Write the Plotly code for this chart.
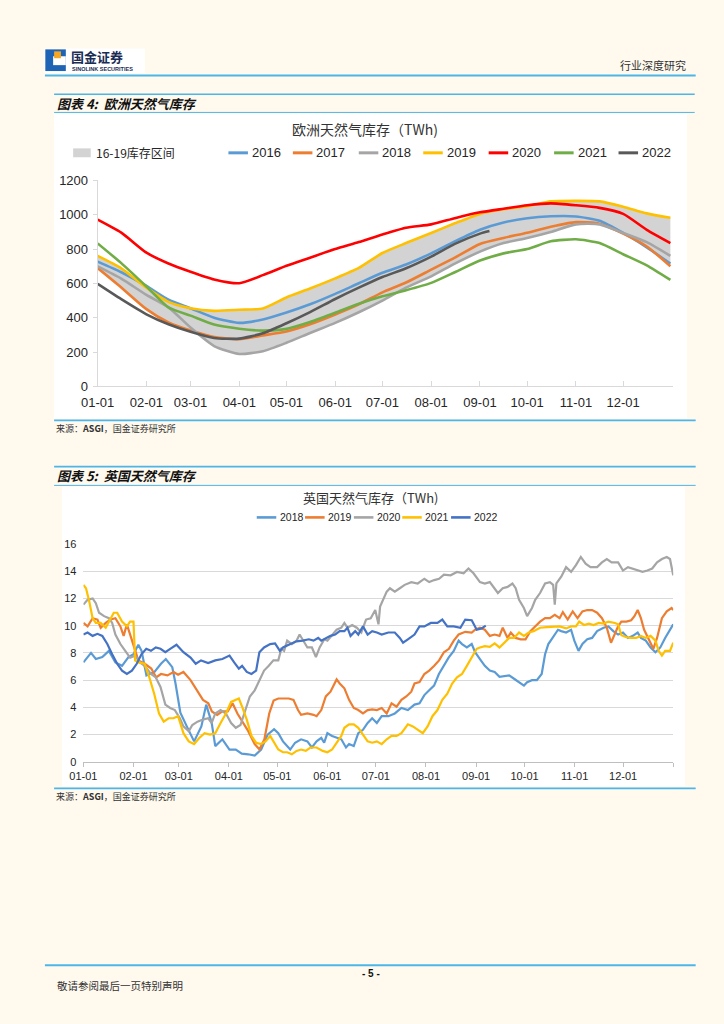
import plotly.graph_objects as go
import numpy as np

W, H = 724, 1024


def px(x):
    return x / W


def py(y):
    return 1 - y / H


# ---------------- Chart 1: Europe gas storage (TWh) ----------------
month_ticks = [0, 31, 59, 90, 120, 151, 181, 212, 243, 273, 304, 334]
month_labels = ["01-01", "02-01", "03-01", "04-01", "05-01", "06-01",
                "07-01", "08-01", "09-01", "10-01", "11-01", "12-01"]

eu_days = [0, 15, 31, 45, 59, 74, 90, 105, 120, 135, 151, 166, 181,
           196, 212, 227, 243, 258, 273, 288, 304, 319, 334, 349, 364]
eu_2016 = [727, 665, 585, 505, 455, 400, 370, 390, 430, 478, 539, 601, 662,
           710, 775, 845, 913, 955, 980, 991, 990, 965, 894, 810, 715]
eu_2017 = [689, 576, 450, 372, 325, 288, 275, 297, 320, 362, 419, 478, 548,
           605, 680, 750, 830, 865, 895, 930, 957, 948, 890, 815, 700]
eu_2018 = [699, 628, 533, 460, 343, 235, 189, 205, 254, 311, 370, 432, 500,
           575, 641, 715, 785, 835, 865, 900, 944, 944, 894, 840, 760]
eu_2019 = [760, 688, 575, 492, 455, 440, 446, 454, 518, 570, 629, 690, 777,
           835, 894, 950, 1005, 1032, 1050, 1078, 1081, 1078, 1047, 1008, 982]
eu_2020 = [972, 896, 779, 716, 668, 623, 601, 648, 703, 750, 800, 841, 885,
           924, 944, 980, 1014, 1035, 1055, 1066, 1055, 1040, 1005, 912, 835]
eu_2021 = [833, 718, 582, 460, 412, 360, 336, 325, 335, 375, 429, 481, 525,
           560, 603, 665, 733, 775, 800, 845, 857, 835, 770, 705, 620]
eu_2022_days = [0, 15, 31, 45, 59, 74, 90, 105, 120, 135, 151, 166, 181,
                196, 212, 227, 243, 249]
eu_2022 = [597, 508, 420, 362, 318, 282, 278, 309, 368, 433, 509, 575, 637,
           688, 756, 830, 890, 905]

eu_names = ["2016", "2017", "2018", "2019", "2020", "2021", "2022"]
eu_colors = ["#5B9BD5", "#ED7D31", "#A5A5A5", "#FFC000", "#FF0000", "#70AD47", "#595959"]

# ---------------- Chart 2: UK gas storage (TWh) ----------------
uk_2018 = [(0, 7.3), (4.7, 8.0), (7.7, 7.55), (11.7, 7.7), (15.8, 8.15), (19.8, 7.3), (23.9, 7.05),
           (27.9, 7.7), (31, 7.9), (34, 8.6), (36, 8.15), (39, 6.35), (44, 6.6), (48, 7.2), (51, 7.55),
           (55, 6.95), (57, 5.75), (60, 3.6), (64, 2.6), (68.5, 1.5), (73, 2.6), (76, 4.2), (79.4, 2.85),
           (81.6, 1.15), (86, 1.65), (90.4, 0.9), (94.3, 0.9), (98, 0.6), (102, 0.55), (106, 0.45),
           (110, 0.9), (114, 2.0), (118, 2.4), (120.6, 2.1), (123.5, 1.5), (128, 0.9), (131, 1.4),
           (134.7, 1.65), (138.6, 1.5), (141.4, 1.05), (144.3, 1.5), (147.2, 1.75), (149, 1.4), (151, 2.1),
           (153.9, 1.9), (156.7, 1.75), (159.6, 1.65), (162.5, 1.05), (164.4, 1.3), (167.3, 1.15),
           (170.1, 2.1), (173, 2.35), (175.9, 2.85), (178.7, 3.2), (181.6, 2.85), (184.6, 3.35),
           (188.7, 3.35), (192.7, 3.55), (196.8, 3.95), (200.8, 3.8), (204.9, 4.2), (208, 4.3), (211, 4.9),
           (214, 5.25), (217, 5.6), (220, 6.45), (223, 7.05), (226, 7.65), (229.2, 8.15), (232.2, 8.9),
           (234.3, 8.65), (237.3, 8.4), (240.3, 8.65), (242.4, 8.05), (245.4, 7.55), (248.4, 7.05),
           (251.5, 6.7), (254.5, 6.6), (257.5, 6.25), (260.5, 6.3), (263.5, 6.35), (266.5, 6.1),
           (269.6, 5.85), (272.6, 5.6), (274.6, 5.85), (277.6, 6.0), (280.6, 6.0), (283.6, 6.45),
           (285.7, 7.9), (287.7, 8.65), (289.7, 9.0), (291.7, 9.35), (293.7, 9.7), (295.7, 9.6),
           (298.7, 9.5), (301.8, 9.7), (303.8, 8.9), (306.4, 8.15), (308.8, 8.65), (311.8, 9.0),
           (314.8, 9.1), (317.9, 9.6), (321.9, 9.85), (324.9, 9.95), (327.9, 9.6), (330.9, 9.35),
           (333.9, 9.5), (337, 9.1), (340, 9.25), (343, 9.5), (345, 9.1), (348, 8.9), (351, 8.4),
           (354, 8.05), (357, 8.4), (360, 9.1), (363, 9.7), (365, 10.1)]

uk_2019 = [(0, 10.2), (2.6, 9.95), (5.7, 10.55), (8.7, 10.45), (10.7, 9.85), (13.8, 10.2), (16.8, 10.45),
           (19.8, 10.55), (22.9, 9.95), (24.9, 9.25), (26.9, 10.1), (28.9, 9.35), (31, 8.4), (34, 7.45),
           (38, 7.2), (42, 6.85), (45, 6.2), (48, 6.45), (52, 6.35), (55.8, 6.6), (58.6, 6.4), (61.9, 6.6),
           (66.3, 6.0), (70.7, 5.15), (74, 4.55), (77.3, 4.3), (79.5, 3.7), (82.8, 3.45), (86, 3.7),
           (89.3, 3.7), (92.3, 4.3), (95.3, 3.55), (98.2, 2.95), (102, 2.25), (106, 1.3), (109, 0.9),
           (112, 1.65), (115, 3.55), (117.7, 4.5), (120.6, 4.65), (123.3, 4.65), (127.1, 4.65), (130, 4.55),
           (132.8, 3.8), (134.7, 3.45), (138.6, 3.55), (142.4, 3.45), (144.3, 3.35), (147.2, 3.8),
           (150, 4.8), (152.9, 5.15), (154.8, 5.6), (156.7, 6.05), (158.6, 5.75), (161.5, 5.4),
           (164.4, 4.55), (167.3, 3.95), (170.1, 3.8), (173, 3.55), (175.9, 3.8), (178.7, 3.85),
           (181.6, 3.8), (184.6, 3.95), (187.7, 3.55), (190.7, 4.3), (193.8, 4.05), (196.8, 4.55),
           (199.8, 4.8), (202.9, 5.15), (204.9, 5.75), (208, 5.85), (211, 6.45), (214, 6.7), (217.1, 7.05),
           (220.1, 7.45), (223.1, 8.05), (226.2, 8.3), (229.2, 8.9), (232.2, 9.35), (236.3, 9.55),
           (240.3, 9.5), (242.4, 9.7), (245.4, 9.85), (248.4, 9.7), (251.5, 9.25), (254.5, 9.35),
           (257.5, 9.25), (259.5, 9.85), (262.5, 9.1), (264.5, 9.5), (267.5, 9.1), (270.6, 9.0),
           (273.6, 9.0), (276.6, 9.6), (279.6, 9.95), (282.6, 10.3), (285.7, 10.55), (288.7, 10.55),
           (291.7, 10.8), (294.7, 10.55), (296.7, 11.0), (299.7, 10.45), (302.8, 11.05), (305.8, 10.55),
           (308.8, 11.05), (311.8, 11.15), (314.8, 11.15), (317.9, 10.95), (320.9, 10.55), (323.9, 9.85),
           (326.5, 8.75), (328.9, 9.35), (330.9, 9.95), (332.9, 10.3), (336, 10.3), (339, 10.4),
           (341, 10.7), (343, 11.15), (345, 10.55), (347, 9.7), (350, 8.9), (352.7, 8.3), (355, 9.1),
           (358, 10.55), (361, 11.05), (364, 11.3), (365, 11.15)]

uk_2020 = [(0, 11.55), (2.6, 11.9), (5.7, 12.0), (7.7, 11.65), (9.7, 10.95), (12.8, 10.7), (15.8, 10.55),
           (17.8, 10.2), (19.8, 9.35), (22.9, 8.65), (25.9, 8.15), (28.9, 7.65), (32, 7.8), (35, 7.3),
           (37.9, 7.05), (41.8, 6.45), (44.8, 6.2), (47.7, 5.5), (50.7, 4.2), (53.7, 3.95), (56.6, 3.8),
           (59.7, 3.2), (61.9, 2.6), (65.2, 2.25), (67.4, 2.7), (70.6, 2.95), (73.9, 3.1), (77.2, 3.2),
           (79.4, 2.85), (81.6, 3.55), (84.9, 3.8), (88.2, 3.55), (91.4, 2.85), (94.3, 2.5), (97.2, 2.7),
           (100.1, 3.8), (103, 4.8), (106, 5.25), (108.9, 6.0), (111.8, 6.7), (114.7, 7.05), (117.6, 7.45),
           (120.6, 7.45), (122.5, 8.3), (124.2, 8.15), (126.1, 8.9), (129, 8.65), (131.9, 8.9),
           (133.8, 9.35), (135.7, 9.0), (138.6, 8.4), (141.4, 8.4), (143.9, 7.7), (146.2, 8.4),
           (149.1, 9.0), (151, 8.9), (153.9, 9.35), (156.7, 9.7), (159.6, 9.85), (161.5, 10.2),
           (163.4, 9.85), (166.3, 10.05), (169.2, 9.85), (172, 9.5), (174.9, 10.45), (177.8, 10.55),
           (180.6, 11.15), (182.6, 10.1), (183.6, 11.4), (185.7, 11.9), (187.7, 12.5), (189.7, 12.75),
           (192.7, 12.5), (195.8, 12.75), (198.8, 13.0), (202.9, 13.2), (206.9, 13.1), (211, 13.45),
           (214, 13.2), (217.1, 13.35), (220.1, 13.45), (223.1, 13.75), (227.2, 13.7), (231.2, 13.95),
           (235.3, 13.85), (238.3, 14.2), (241.4, 13.85), (245.4, 13.2), (248.4, 13.1), (251.5, 13.2),
           (254.5, 12.75), (256.5, 12.4), (259.5, 12.75), (262.5, 12.85), (265.5, 13.1), (267.5, 12.75),
           (269.6, 11.9), (272.6, 11.3), (274.6, 10.7), (277.6, 11.3), (279.6, 11.9), (282.6, 12.4),
           (285.7, 13.1), (288.7, 13.2), (290.7, 13.0), (291.7, 11.55), (292.7, 13.1), (295.7, 13.6),
           (298.7, 14.3), (301.8, 13.95), (304.8, 14.45), (307.8, 15.05), (310.8, 14.55), (313.8, 14.3),
           (317.9, 14.3), (320.9, 14.65), (323.9, 14.9), (326.9, 14.65), (330.9, 14.65), (333.9, 14.05),
           (337, 14.3), (340, 14.2), (343, 14.05), (346, 13.95), (349, 14.05), (352, 14.2), (355, 14.65),
           (358, 14.9), (361, 15.05), (363, 14.9), (365, 13.7)]

uk_2021 = [(0, 13.0), (1.6, 12.75), (3.6, 11.8), (5.7, 10.55), (7.7, 10.2), (10.7, 10.2), (13.8, 9.85),
           (15.8, 10.3), (18.8, 10.95), (20.9, 10.95), (23.9, 10.3), (26.9, 9.95), (28.9, 10.3), (31, 10.3),
           (32, 7.45), (34, 7.3), (37.9, 7.2), (40.8, 6.2), (43.8, 5.0), (46.8, 3.55), (49.7, 2.95),
           (52.7, 3.2), (55.7, 3.2), (58.6, 3.35), (61.9, 2.1), (65.2, 1.5), (68.5, 1.3), (71.7, 1.75),
           (75, 2.1), (78.3, 2.0), (81.6, 2.1), (84.9, 2.85), (88.2, 3.55), (91.4, 4.4), (94.3, 4.55),
           (96.2, 4.65), (98.2, 4.05), (101.1, 3.1), (104, 1.9), (106.9, 1.4), (109.8, 1.3), (112.7, 1.5),
           (115.6, 1.9), (117.6, 1.5), (120.6, 0.9), (123.5, 0.7), (126.1, 0.7), (129, 0.55), (131.9, 0.8),
           (134.7, 0.9), (137.6, 0.8), (140.5, 1.05), (144.3, 1.05), (148.1, 0.8), (151, 0.7), (153.9, 0.9),
           (156.7, 1.4), (159.6, 1.9), (161.5, 2.5), (164.4, 2.75), (167.3, 2.75), (170.1, 2.5), (173, 2.0),
           (175.9, 1.5), (178.7, 1.4), (181.6, 1.5), (184.6, 1.3), (187.7, 1.65), (190.7, 1.9),
           (193.8, 1.9), (196.8, 2.1), (200.8, 2.75), (203.9, 2.6), (206.9, 2.35), (210, 2.1), (213, 2.6),
           (216, 3.35), (219.1, 3.8), (222.1, 4.55), (225.2, 5.0), (228.2, 5.75), (231.2, 6.2),
           (234.3, 6.45), (237.3, 7.05), (240.3, 7.65), (243.4, 8.3), (245.4, 8.4), (248.4, 8.5),
           (251.5, 8.45), (254.5, 8.7), (257.5, 8.4), (260.5, 8.75), (263.5, 9.1), (266.5, 9.1),
           (269.6, 9.5), (272.6, 9.25), (275.6, 9.5), (278.6, 9.6), (282.6, 9.85), (286.7, 9.9),
           (290.7, 9.9), (294.7, 9.95), (298.7, 9.8), (301.8, 9.95), (304.8, 9.95), (306.8, 10.3),
           (309.8, 10.05), (312.8, 10.15), (315.8, 10.05), (318.9, 10.2), (321.9, 10.15), (324.9, 10.3),
           (328.9, 10.2), (330.9, 10.1), (332.9, 9.3), (336, 9.15), (339, 9.1), (342, 9.1), (345, 9.25),
           (348, 9.1), (351, 9.25), (354, 8.9), (356, 8.15), (358, 7.8), (360, 8.15), (363, 8.15),
           (365, 8.75)]

uk_2022 = [(0, 9.35), (2.6, 9.5), (5.7, 9.25), (8.7, 9.4), (11.7, 9.25), (14.8, 8.65), (17.8, 7.9),
           (20.9, 7.2), (23.9, 6.7), (26.9, 6.45), (30, 6.7), (33, 7.2), (35.9, 7.9), (38.9, 8.3),
           (41.8, 8.15), (44.8, 8.4), (47.7, 8.3), (50.7, 8.05), (53.7, 8.3), (57.6, 8.6), (61.9, 8.05),
           (66.3, 7.65), (69.5, 7.2), (72.8, 7.45), (77.2, 7.25), (81.6, 7.45), (86, 7.55), (90.4, 7.8),
           (93.3, 7.3), (96.2, 6.85), (98.2, 7.05), (101.1, 6.6), (104, 6.45), (106.9, 6.7), (108.9, 8.05),
           (111.8, 8.4), (115.6, 8.65), (118.6, 8.7), (121.6, 8.15), (123.5, 8.4), (128.1, 8.65),
           (131.9, 8.85), (135.7, 8.9), (139.5, 9.0), (142.4, 8.9), (145.3, 9.1), (147.2, 8.9), (150, 9.1),
           (152.9, 9.25), (155.8, 9.35), (158.6, 9.6), (161.5, 9.6), (163.4, 9.85), (165.3, 9.25),
           (168.2, 9.6), (170.1, 9.35), (173, 9.95), (175.9, 9.35), (178.7, 9.6), (181.6, 9.5),
           (184.6, 9.35), (188.7, 9.5), (192.7, 9.5), (195.8, 9.1), (197.8, 8.75), (200.8, 9.0),
           (204.9, 9.35), (208, 9.95), (211, 9.95), (215, 10.2), (219.1, 10.2), (222.1, 10.45),
           (225.2, 9.95), (229.2, 9.95), (233.3, 9.85), (236.3, 10.45), (240.3, 10.4), (243.4, 9.7),
           (246.4, 9.8), (249, 10.0)]

uk_names = ["2018", "2019", "2020", "2021", "2022"]
uk_colors = ["#5B9BD5", "#ED7D31", "#A5A5A5", "#FFC000", "#4472C4"]

# ---------------- figure ----------------
fig = go.Figure()

eu_all = [eu_2016, eu_2017, eu_2018, eu_2019]
band_lo = np.min(np.array(eu_all), axis=0)
band_hi = np.max(np.array(eu_all), axis=0)

fig.add_trace(go.Scatter(x=eu_days, y=band_lo, mode="lines",
                         line=dict(width=0, shape="spline", smoothing=0.6),
                         hoverinfo="skip", showlegend=False, xaxis="x", yaxis="y"))
fig.add_trace(go.Scatter(x=eu_days, y=band_hi, mode="lines", fill="tonexty",
                         fillcolor="#D3D3D3",
                         line=dict(width=0, shape="spline", smoothing=0.6),
                         name="16-19库存区间", showlegend=False, xaxis="x", yaxis="y"))

eu_series = [eu_2016, eu_2017, eu_2018, eu_2019, eu_2020, eu_2021, eu_2022]
for name, vals, col in zip(eu_names, eu_series, eu_colors):
    xs = eu_2022_days if name == "2022" else eu_days
    fig.add_trace(go.Scatter(x=xs, y=vals, mode="lines", name=name,
                             line=dict(color=col, width=2.6, shape="spline", smoothing=0.6),
                             showlegend=False, xaxis="x", yaxis="y"))

uk_series = [uk_2018, uk_2019, uk_2020, uk_2021, uk_2022]
for name, pts, col in zip(uk_names, uk_series, uk_colors):
    d, v = zip(*pts)
    fig.add_trace(go.Scatter(x=list(d), y=list(v), mode="lines", name=name,
                             line=dict(color=col, width=2.2),
                             showlegend=False, xaxis="x2", yaxis="y2"))

FONT = "Liberation Sans, Arial, Noto Sans CJK SC, sans-serif"
CJK = "Noto Sans CJK SC, Liberation Sans, sans-serif"
BLUE = "#4DB6E8"

shapes = []
# white panels
shapes.append(dict(type="rect", xref="paper", yref="paper", x0=px(38), x1=px(686), y0=py(418), y1=py(108),
                   fillcolor="white", line=dict(width=0), layer="below"))
shapes.append(dict(type="rect", xref="paper", yref="paper", x0=px(46), x1=px(684), y0=py(791), y1=py(487),
                   fillcolor="white", line=dict(width=0), layer="below"))
# logo background
shapes.append(dict(type="rect", xref="paper", yref="paper", x0=px(28), x1=px(131), y0=py(67), y1=py(42),
                   fillcolor="white", line=dict(width=0), layer="below"))
# logo icon
shapes.append(dict(type="rect", xref="paper", yref="paper", x0=px(29), x1=px(50), y0=py(65), y1=py(43),
                   fillcolor="#1F63B5", line=dict(width=0)))
shapes.append(dict(type="rect", xref="paper", yref="paper", x0=px(37), x1=px(50), y0=py(59), y1=py(50),
                   fillcolor="white", line=dict(width=0)))
shapes.append(dict(type="rect", xref="paper", yref="paper", x0=px(38), x1=px(45), y0=py(52), y1=py(45),
                   fillcolor="#F5A623", line=dict(width=0)))


def hline(y, x0, x1, w, col=BLUE):
    shapes.append(dict(type="line", xref="paper", yref="paper", x0=px(x0), x1=px(x1), y0=py(y), y1=py(y),
                       line=dict(color=col, width=w)))


hline(69.5, 28.6, 695, 2.2)
hline(88.5, 38, 694, 1.6)
hline(107, 38, 694, 1.0)
hline(419.5, 38, 695, 1.6)
hline(466.5, 38, 695, 1.6)
hline(485.5, 38, 695, 1.0)
hline(793, 38, 695, 1.6)
hline(972.5, 28.6, 695, 2.2)

annotations = []


def text(x, y, s, size, color="#222222", family=FONT, xanchor="left"):
    annotations.append(dict(x=px(x), y=py(y), xref="paper", yref="paper", text=s, showarrow=False,
                            xanchor=xanchor, yanchor="middle", font=dict(size=size, color=color, family=family)))


# header
text(53, 50, "<b>国金证券</b>", 13, "#1A2C55", CJK)
text(54, 62.5, "<b>SINOLINK SECURITIES</b>", 5.5, "#1A2C55")
text(687, 59, "行业深度研究", 11, "#333333", CJK, "right")

# section titles
text(39, 97.5, "<b><i>图表 4:  欧洲天然气库存</i></b>", 13, "#111111", CJK)
text(39, 475.5, "<b><i>图表 5:  英国天然气库存</i></b>", 13, "#111111", CJK)

# chart titles
text(356, 124, "欧洲天然气库存（TWh)", 14, "#333333", CJK, "center")
text(363, 497.5, "英国天然气库存（TWh)", 13, "#333333", CJK, "center")

# chart 1 legend
shapes.append(dict(type="rect", xref="paper", yref="paper", x0=px(57.5), x1=px(75.5), y0=py(152.5),
                   y1=py(143.5), fillcolor="#D3D3D3", line=dict(width=0)))
text(78.5, 148, "16-19库存区间", 12, "#262626", CJK)
eu_leg_x = [216.5, 282.5, 350, 416, 483, 550, 616]
for name, col, lx in zip(eu_names, eu_colors, eu_leg_x):
    shapes.append(dict(type="line", xref="paper", yref="paper", x0=px(lx), x1=px(lx + 20), y0=py(148),
                       y1=py(148), line=dict(color=col, width=3)))
    text(lx + 22, 148, name, 13, "#262626")

# chart 2 legend
uk_leg_x = [245.5, 295, 345, 394.5, 444.5]
for name, col, lx in zip(uk_names, uk_colors, uk_leg_x):
    shapes.append(dict(type="line", xref="paper", yref="paper", x0=px(lx), x1=px(lx + 20), y0=py(518),
                       y1=py(518), line=dict(color=col, width=2.6)))
    text(lx + 21.5, 518, name, 10.5, "#262626")

# sources
text(38, 428, "来源：<b>ASGI</b>，国金证券研究所", 9, "#333333", CJK)
text(38, 801, "来源：<b>ASGI</b>，国金证券研究所", 9, "#333333", CJK)

# footer
text(362.5, 980.5, "<b>- 5 -</b>", 10, "#111111", FONT, "center")
text(39, 993, "敬请参阅最后一页特别声明", 10.5, "#333333", CJK)

fig.update_layout(
    width=W, height=H,
    margin=dict(l=0, r=0, t=0, b=0),
    paper_bgcolor="#FFF9EE",
    plot_bgcolor="rgba(0,0,0,0)",
    font=dict(family=FONT, size=12, color="#262626"),
    showlegend=False,
    shapes=shapes,
    annotations=annotations,
    xaxis=dict(domain=[px(82.6), px(671.5)], range=[0, 365.5], anchor="y",
               tickmode="array", tickvals=month_ticks + [365], ticktext=month_labels + [""],
               ticks="inside", ticklen=5, tickcolor="#D9D9D9", tickwidth=1,
               showline=True, linecolor="#D9D9D9", linewidth=1, showgrid=False, zeroline=False,
               tickfont=dict(size=13, color="#262626"), ticklabelstandoff=4),
    yaxis=dict(domain=[py(385), py(176)], range=[0, 1200], anchor="x",
               tickmode="linear", tick0=0, dtick=200,
               ticks="outside", ticklen=4, tickcolor="#D9D9D9",
               showline=True, linecolor="#D9D9D9", linewidth=1, showgrid=False, zeroline=False,
               tickfont=dict(size=13, color="#262626"), ticklabelstandoff=2),
    xaxis2=dict(domain=[px(68), px(672)], range=[0, 365], anchor="y2",
                tickmode="array", tickvals=month_ticks + [365], ticktext=month_labels + [""],
                ticks="outside", ticklen=4, tickcolor="#BFBFBF",
                showline=True, linecolor="#BFBFBF", linewidth=1, showgrid=False, zeroline=False,
                tickfont=dict(size=11, color="#262626")),
    yaxis2=dict(domain=[py(766), py(545)], range=[0, 16], anchor="x2",
                tickmode="linear", tick0=0, dtick=2,
                showline=False, showgrid=True, gridcolor="#D9D9D9", gridwidth=1, zeroline=False,
                tickfont=dict(size=11, color="#262626"), ticklabelstandoff=6),
)

fig.write_html("out.html",
               config={"displayModeBar": False, "staticPlot": True},
               post_script="document.body.style.margin='0px';document.body.style.overflow='hidden';")
